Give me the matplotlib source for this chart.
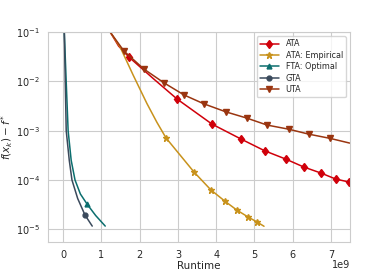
import matplotlib.pyplot as plt
import seaborn as sns

sns.set_style('whitegrid')

# runtime (x1e9) and f(x_k) - f*
ata_x = [1.23, 1.45, 1.72, 2.35, 2.98, 3.89, 4.65, 5.27, 5.82, 6.29, 6.74, 7.13, 7.47]
ata_y = [0.1, 0.052, 0.0311, 0.0115, 0.00437, 0.00136, 0.000676, 0.00039, 0.000265, 0.000183, 0.000138, 0.000104, 9.1e-5]
ata_marks = [2, 4, 5, 6, 7, 8, 9, 10, 11, 12]

emp_x = [1.23, 1.49, 1.83, 2.19, 2.45, 2.69, 3.42, 3.86, 4.23, 4.54, 4.83, 5.07, 5.25]
emp_y = [0.1, 0.0497, 0.0134, 0.00355, 0.00148, 7.1e-4, 1.45e-4, 6.3e-5, 3.7e-5, 2.45e-5, 1.78e-5, 1.4e-5, 1.15e-5]
emp_marks = [5, 6, 7, 8, 9, 10, 11]

fta_x = [0.03, 0.08, 0.13, 0.21, 0.31, 0.45, 0.63, 0.85, 1.10]
fta_y = [0.1, 0.0097, 1e-3, 2.5e-4, 1e-4, 5.2e-5, 3.2e-5, 1.9e-5, 1.16e-5]
fta_marks = [6]

gta_x = [0.03, 0.08, 0.16, 0.23, 0.38, 0.57, 0.76]
gta_y = [0.1, 1e-3, 2.5e-4, 1e-4, 4.2e-5, 1.95e-5, 1.16e-5]
gta_marks = [5]

uta_x = [1.23, 1.59, 2.11, 2.64, 3.16, 3.68, 4.26, 4.80, 5.33, 5.90, 6.42, 6.97, 7.49]
uta_y = [0.1, 0.0412, 0.0178, 0.0093, 0.0053, 0.0035, 0.0024, 0.0018, 0.0013, 0.00107, 0.00085, 0.00070, 0.00056]
uta_marks = [1, 2, 3, 4, 5, 6, 7, 8, 9, 10, 11]

fig, ax = plt.subplots(figsize=(3.89, 2.72), dpi=100)

scale = 1e9
ax.plot([v * scale for v in ata_x], ata_y, color='#d0000a', marker='d', ms=4.5, lw=1.1,
        markevery=ata_marks, label='ATA')
ax.plot([v * scale for v in emp_x], emp_y, color='#c8921c', marker='*', ms=4.5, lw=1.1,
        markevery=emp_marks, label='ATA: Empirical')
ax.plot([v * scale for v in fta_x], fta_y, color='#0b6e6e', marker='^', ms=3.5, lw=1.1,
        markevery=fta_marks, label='FTA: Optimal')
ax.plot([v * scale for v in gta_x], gta_y, color='#3b4a5c', marker='o', ms=3.5, lw=1.1,
        markevery=gta_marks, label='GTA')
ax.plot([v * scale for v in uta_x], uta_y, color='#9a3510', marker='v', ms=4, lw=1.1,
        markevery=uta_marks, label='UTA')

ax.set_yscale('log')
ax.set_xlim(-0.4e9, 7.5e9)
ax.set_ylim(10 ** -5.26, 1e-1)
ax.tick_params(labelsize=7, pad=2)
# offset label placed by hand so it sits next to the x label, as in the original
ax.xaxis.get_offset_text().set_visible(False)
ax.text(1.0, -0.11, '1e9', transform=ax.transAxes, ha='right', va='center', fontsize=7, color='#262626')
ax.set_xlabel('Runtime', fontsize=7.5, labelpad=1)
ax.set_ylabel(r'$f(x_k) - f^*$', fontsize=7.5, labelpad=1)
ax.legend(loc='upper right', fontsize=5.8, handlelength=2.4, borderpad=0.4, labelspacing=0.3)

plt.subplots_adjust(left=0.123, right=0.9, bottom=0.11, top=0.882)
plt.savefig('out.png', dpi=100)
